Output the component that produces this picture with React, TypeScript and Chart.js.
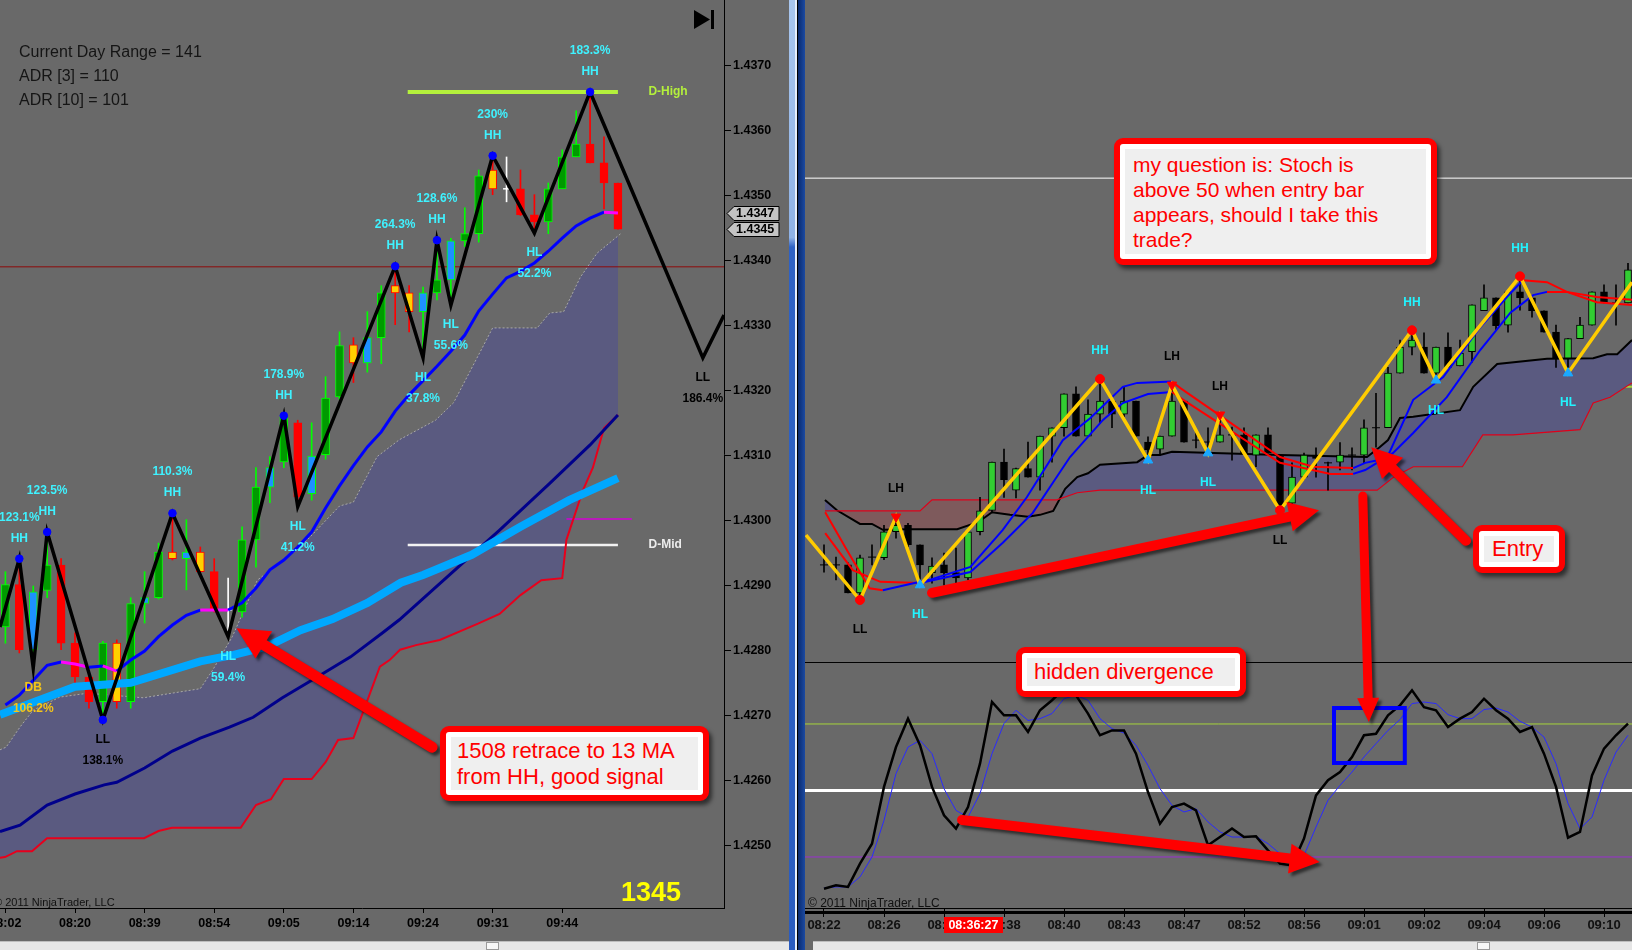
import React, { useEffect, useRef } from 'react';
import { Chart, registerables } from 'chart.js';

Chart.register(...registerables);

const FONT = 'Arial, "Liberation Sans", Helvetica, sans-serif';
const BG = '#696969';

// ================= LEFT PANEL (tick chart) =================
const LEFT_TIME_LABELS = ['08:02', '08:20', '08:39', '08:54', '09:05', '09:14', '09:24', '09:31', '09:44'];
const LEFT_TIME_BARS = [0, 5, 10, 15, 20, 25, 30, 35, 40];
const LEFT_PRICE_TICKS = [1.425, 1.426, 1.427, 1.428, 1.429, 1.43, 1.431, 1.432, 1.433, 1.434, 1.435, 1.436, 1.437];
const LEFT_X_MIN = -0.388;
const LEFT_X_MAX = 51.62;
const LEFT_Y_MIN = 1.424046;
const LEFT_Y_MAX = 1.438015;

// g = up, r = down, y = yellow signal bar, b = blue signal bar, w = white doji
const LEFT_KIND = ['g','r','b','g','r','r','r','g','y','g','b','g','y','b','y','r','w','g','g','b','g','r','b','g','g','y','b','g','y','y','b','g','b','g','g','y','w','r','r','g','g','g','r','r','r'];
const LEFT_OPEN = [1.42837,1.42902,1.42802,1.42893,1.42932,1.42812,1.42760,1.42722,1.42812,1.42722,1.42873,1.42882,1.42952,1.42942,1.42952,1.42922,1.42863,1.42860,1.42971,1.43052,1.43091,1.43151,1.43042,1.43102,1.43191,1.43271,1.43243,1.43282,1.43362,1.43351,1.43322,1.43351,1.43371,1.43431,1.43442,1.43540,1.43511,1.43511,1.43471,1.43460,1.43511,1.43560,1.43580,1.43551,1.43520];
const LEFT_HIGH = [1.42922,1.42942,1.42900,1.42983,1.42942,1.42828,1.42770,1.42815,1.42817,1.42882,1.42922,1.42966,1.43012,1.43002,1.42960,1.42942,1.42912,1.42991,1.43082,1.43099,1.43162,1.43155,1.43151,1.43222,1.43291,1.43282,1.43322,1.43362,1.43392,1.43362,1.43360,1.43432,1.43435,1.43482,1.43540,1.43562,1.43560,1.43540,1.43502,1.43520,1.43571,1.43631,1.43660,1.43591,1.43520];
const LEFT_LOW = [1.42812,1.42797,1.42774,1.42882,1.42802,1.42751,1.42712,1.42694,1.42712,1.42712,1.42843,1.42880,1.42940,1.42894,1.42920,1.42860,1.42822,1.42852,1.42929,1.43028,1.43082,1.43022,1.43032,1.43095,1.43187,1.43213,1.43229,1.43242,1.43302,1.43291,1.43251,1.43340,1.43332,1.43422,1.43429,1.43502,1.43491,1.43470,1.43443,1.43442,1.43511,1.43560,1.43551,1.43480,1.43449];
const LEFT_CLOSE = [1.42902,1.42802,1.42891,1.42932,1.42812,1.42760,1.42722,1.42812,1.42722,1.42873,1.42882,1.42952,1.42942,1.42952,1.42922,1.42863,1.42863,1.42971,1.43052,1.43082,1.43160,1.43037,1.43100,1.43189,1.43270,1.43243,1.43282,1.43351,1.43351,1.43322,1.43351,1.43371,1.43431,1.43442,1.43531,1.43511,1.43511,1.43471,1.43460,1.43511,1.43560,1.43580,1.43551,1.43520,1.43449];

const LEFT_ZZ_X = [-0.388, 1, 2, 3, 7, 12, 16, 20, 21, 28, 30, 31, 32, 35, 38, 42, 50.1, 51.62];
const LEFT_ZZ_Y = [1.42837, 1.42942, 1.42774, 1.42983, 1.42694, 1.43012, 1.42822, 1.43162, 1.43022, 1.43392, 1.43251, 1.43432, 1.43332, 1.43562, 1.43443, 1.43660, 1.43251, 1.43317];
const LEFT_LABEL_BARS = [1, 2, 3, 7, 12, 16, 20, 21, 28, 30, 31, 32, 35, 38, 42, 50.1];
const LEFT_LABEL_NAMES = ['HH','DB','HH','LL','HH','HL','HH','HL','HH','HL','HH','HL','HH','HL','HH','LL'];
const LEFT_LABEL_PCTS = ['123.1%','106.2%','123.5%','138.1%','110.3%','59.4%','178.9%','41.2%','264.3%','37.8%','128.6%','55.6%','230%','52.2%','183.3%','186.4%'];
const LEFT_DOT_BARS = [1, 3, 7, 12, 20, 28, 31, 35, 42];

const LEFT_MA13 = [1.42717,1.42732,1.42755,1.42778,1.42783,1.42780,1.42775,1.42777,1.42769,1.42786,1.42800,1.42822,1.42840,1.42855,1.42863,1.42863,1.42863,1.42874,1.42897,1.42925,1.42940,1.42960,1.42983,1.43020,1.43054,1.43085,1.43114,1.43137,1.43169,1.43194,1.43216,1.43238,1.43261,1.43286,1.43323,1.43349,1.43374,1.43384,1.43397,1.43415,1.43435,1.43454,1.43466,1.43475,1.43474];
const LEFT_SLOW_X = [-0.388, 5, 9, 14, 16.4, 18.8, 21.2, 23.5, 26, 28.4, 30, 33.5, 37, 40.5, 44];
const LEFT_SLOW_Y = [1.42702, 1.42745, 1.42751, 1.42784, 1.42794, 1.42807, 1.42832, 1.42849, 1.42874, 1.42905, 1.42917, 1.42948, 1.42991, 1.43032, 1.43066];
const LEFT_NAVY_X = [-0.388, 1.05, 3, 5, 7.1, 8, 10, 12, 14, 16.1, 17.8, 19.9, 22.4, 24.8, 27.1, 28.3, 31.9, 35.5, 39.1, 42, 44];
const LEFT_NAVY_Y = [1.42522, 1.42532, 1.42563, 1.42580, 1.42594, 1.42598, 1.42620, 1.42646, 1.42666, 1.42683, 1.42698, 1.42728, 1.42760, 1.42791, 1.42828, 1.42848, 1.42917, 1.42986, 1.43058, 1.43117, 1.43163];
const LEFT_LOWBAND_X = [-0.388, -0.03, 0.83, 1.91, 2.99, 9.96, 11.0, 11.97, 16.9, 18.0, 19.08, 20.0, 22.0, 23.0, 23.9, 25.0, 26.9, 27.6, 28.35, 29.5, 31.2, 33.95, 35.5, 37.0, 38.5, 40.0, 40.3, 41.5, 42.2, 43.0, 44.0];
const LEFT_LOWBAND_Y = [1.42482, 1.42483, 1.42492, 1.42492, 1.42512, 1.42512, 1.42523, 1.42528, 1.42528, 1.42563, 1.42572, 1.42603, 1.42603, 1.42629, 1.42663, 1.42666, 1.42776, 1.42786, 1.42802, 1.42809, 1.42817, 1.42842, 1.42857, 1.42886, 1.42909, 1.42912, 1.42971, 1.43048, 1.43082, 1.43143, 1.43163];
const LEFT_UPBAND_X = [-0.388, 0.05, 1.05, 2, 3.9, 5.9, 9.9, 14, 14.9, 16.3, 18.1, 21.2, 24, 25, 26.7, 28.3, 30.9, 32.2, 35, 38.2, 39.1, 40.1, 41.3, 42.5, 44.2];
const LEFT_UPBAND_Y = [1.42648, 1.42652, 1.42683, 1.42709, 1.42729, 1.42735, 1.42728, 1.42742, 1.42771, 1.42822, 1.42909, 1.42960, 1.43023, 1.43029, 1.43099, 1.43125, 1.43155, 1.43182, 1.43297, 1.43297, 1.43320, 1.43322, 1.43375, 1.43412, 1.43442];

const LEFT_PREV_LEVEL = 1.43391;
const D_HIGH = 1.4366;
const D_MID = 1.42963;
const D_FROM = 28.9;
const D_TO = 44.0;
const LEFT_MAGENTA_LEVEL = 1.43003;
const LEFT_MAGENTA_FROM = 40.3;
const LEFT_MAGENTA_TO = 45.0;
const LEFT_INFO = ['Current Day Range = 141', 'ADR [3] = 110', 'ADR [10] = 101'];

// ================= RIGHT PANEL =================
const RIGHT_TIME_LABELS = ['08:22','08:26','08:33','08:38','08:40','08:43','08:47','08:52','08:56','09:01','09:02','09:04','09:06','09:10'];
const RIGHT_TIME_BARS = [0,5,10,15,20,25,30,35,40,45,50,55,60,65];
const RIGHT_CURSOR_BAR = 12.45;
const RIGHT_CURSOR_LABEL = '08:36:27';
const R_X_MIN = -1.5833;
const R_X_MAX = 67.333;
const R_Y_MIN = 1.4222615;
const R_Y_MAX = 1.4362308;
const S_MIN = -3.02;
const S_MAX = 406.6;
const S_PANEL_TOP = 108;

// g = up (green), k = down (black), d = doji
const RIGHT_KIND = ['d','d','k','g','d','g','g','k','k','g','k','k','g','g','g','k','g','k','g','g','g','k','g','g','k','g','k','k','g','g','k','d','d','g','d','k','g','k','k','g','g','k','d','g','d','g','d','g','g','g','k','g','k','g','g','g','k','g','k','k','k','k','g','g','g','k','d','g'];
const RIGHT_OPEN = [1.42754,1.42754,1.42754,1.42711,1.42766,1.42765,1.42805,1.42815,1.42785,1.42742,1.42754,1.42742,1.42734,1.42805,1.42838,1.42912,1.42869,1.42902,1.42889,1.42952,1.42965,1.43017,1.42952,1.42986,1.43006,1.42986,1.43006,1.42943,1.42932,1.42952,1.43006,1.42946,1.42943,1.42943,1.42954,1.42954,1.42923,1.42954,1.42923,1.42849,1.42889,1.42923,1.42911,1.42912,1.42923,1.42923,1.42965,1.42965,1.43049,1.43089,1.43089,1.43049,1.43089,1.43060,1.43082,1.43145,1.43165,1.43123,1.43174,1.43165,1.43145,1.43112,1.43072,1.43102,1.43123,1.43174,1.43157,1.43157];
const RIGHT_HIGH = [1.42785,1.42766,1.42757,1.42769,1.42785,1.42815,1.42828,1.42818,1.42785,1.42765,1.42772,1.42780,1.42808,1.42858,1.42912,1.42932,1.42903,1.42943,1.42952,1.42965,1.43017,1.43028,1.43008,1.43040,1.43006,1.43028,1.43006,1.42951,1.42952,1.43031,1.43006,1.42962,1.42965,1.42985,1.42966,1.42965,1.42954,1.42965,1.42923,1.42911,1.42926,1.42934,1.42912,1.42942,1.42934,1.42977,1.43018,1.43058,1.43100,1.43115,1.43111,1.43089,1.43111,1.43100,1.43154,1.43185,1.43165,1.43174,1.43198,1.43165,1.43145,1.43123,1.43102,1.43135,1.43174,1.43185,1.43185,1.43218];
const RIGHT_LOW = [1.42743,1.42731,1.42711,1.42700,1.42754,1.42762,1.42795,1.42782,1.42723,1.42726,1.42723,1.42726,1.42731,1.42800,1.42835,1.42858,1.42857,1.42889,1.42869,1.42912,1.42952,1.42952,1.42952,1.42972,1.42965,1.42982,1.42952,1.42915,1.42923,1.42952,1.42943,1.42934,1.42926,1.42943,1.42915,1.42926,1.42905,1.42926,1.42838,1.42835,1.42885,1.42889,1.42869,1.42900,1.42900,1.42911,1.42935,1.42965,1.43049,1.43077,1.43049,1.43038,1.43058,1.43060,1.43066,1.43145,1.43115,1.43112,1.43146,1.43135,1.43112,1.43058,1.43049,1.43102,1.43123,1.43157,1.43123,1.43157];
const RIGHT_CLOSE = [1.42754,1.42754,1.42711,1.42765,1.42766,1.42805,1.42815,1.42785,1.42754,1.42752,1.42742,1.42734,1.42805,1.42837,1.42912,1.42885,1.42902,1.42889,1.42952,1.42965,1.43017,1.42952,1.42986,1.43006,1.42986,1.43006,1.42952,1.42931,1.42952,1.43006,1.42943,1.42946,1.42943,1.42954,1.42954,1.42926,1.42954,1.42926,1.42843,1.42889,1.42923,1.42918,1.42911,1.42923,1.42923,1.42965,1.42965,1.43049,1.43089,1.43100,1.43049,1.43089,1.43058,1.43080,1.43154,1.43165,1.43122,1.43174,1.43165,1.43145,1.43112,1.43072,1.43102,1.43123,1.43174,1.43157,1.43157,1.43208];

const R_ZZ_X = [-1.5, 3, 6, 8, 23, 27, 29, 32, 33, 38, 49, 51, 58, 62, 67.333];
const R_ZZ_Y = [1.42800, 1.42700, 1.42828, 1.42723, 1.43040, 1.42915, 1.43031, 1.42926, 1.42985, 1.42838, 1.43115, 1.43038, 1.43198, 1.43049, 1.43189];
const R_PIVOT_BARS = [3, 6, 8, 23, 27, 29, 32, 33, 38, 49, 51, 58, 62];
const R_PIVOT_NAMES = ['LL','LH','HL','HH','HL','LH','HL','LH','LL','HH','HL','HH','HL'];

const R_FAST_X = [0.1, 2, 3.8, 4.9, 8, 8.8, 12.2, 14.9, 16.9, 19.9, 22.2, 24.9, 26.1, 29, 29.7, 38, 40.75, 44.1, 45.1, 46.9, 49.1, 51.6, 54.7, 57.2, 58.25, 60.25, 61.9, 64.4, 67.333];
const R_FAST_Y = [1.42835, 1.42774, 1.42718, 1.42715, 1.42728, 1.42731, 1.42751, 1.42808, 1.42858, 1.42946, 1.42980, 1.43028, 1.43034, 1.43036, 1.43026, 1.42920, 1.42905, 1.42903, 1.42911, 1.42918, 1.43008, 1.43043, 1.43120, 1.43172, 1.43192, 1.43189, 1.43174, 1.43166, 1.43162];
const R_SLOW_X = [0.1, 2.4, 4.7, 8, 12.2, 14.9, 17.4, 20.5, 23.25, 24.9, 27, 29, 30.1, 38, 42.2, 44.1, 45.1, 47.4, 49.1, 51.9, 54.7, 57.2, 59.1, 60.25, 61.9, 64.4, 67.333];
const R_SLOW_Y = [1.42803, 1.42746, 1.42728, 1.42726, 1.42743, 1.42788, 1.42834, 1.42920, 1.42977, 1.43003, 1.43017, 1.43020, 1.43006, 1.42911, 1.42894, 1.42894, 1.42900, 1.42926, 1.42957, 1.43012, 1.43085, 1.43142, 1.43169, 1.43174, 1.43174, 1.43158, 1.43154];
const R_CLOUD_A_X = [0.08, 1.08, 3, 4, 4.9, 7.2, 11.1, 12.4, 13.25, 14, 15.5, 17, 18, 19.1, 20.1, 21.1, 22, 23, 26.1, 27, 28, 29, 38, 45.25, 46.3, 47, 48, 49.1, 53, 54.1, 56.1, 60.25, 64.1, 65.25, 66.1, 67.333];
const R_CLOUD_A_Y = [1.42854, 1.42838, 1.42817, 1.42817, 1.42808, 1.42809, 1.42809, 1.42817, 1.42825, 1.42835, 1.42831, 1.42828, 1.42831, 1.42837, 1.42871, 1.42889, 1.42895, 1.42908, 1.42912, 1.42923, 1.42923, 1.42928, 1.42923, 1.42920, 1.42935, 1.42946, 1.42980, 1.42982, 1.42992, 1.43028, 1.43063, 1.43071, 1.43072, 1.43078, 1.43078, 1.43100];
const R_CLOUD_B_X = [0.08, 8, 9, 19.4, 21.1, 23, 46.1, 47.4, 49.1, 53.2, 54.9, 57.4, 63, 64.1, 65.5, 67.333];
const R_CLOUD_B_Y = [1.42837, 1.42837, 1.42854, 1.42854, 1.42865, 1.42869, 1.42869, 1.42888, 1.42905, 1.42905, 1.42954, 1.42954, 1.42962, 1.43003, 1.43012, 1.43034];
const R_WHITE_LEVEL = 1.43349;
const R_GREEN_LEVEL = 1.43028;
const R_GREEN_FROM = 54.1;

const STOCH_K = [5.7,7.2,6.5,17.0,26.0,51.6,69.6,82.4,70.4,51.6,38.8,32.8,42.5,62.1,89.9,83.9,83.9,76.4,86.2,90.7,95.9,92.9,84.7,74.9,77.1,77.1,66.6,49.3,35.0,42.5,44.1,41.0,25.3,29.0,32.8,29.0,29.3,23.0,17.0,16.2,28.3,47.8,54.6,58.3,65.1,74.9,75.6,83.9,88.4,95.2,87.6,86.2,78.6,82.4,85.4,91.4,86.2,82.4,76.4,78.6,66.6,51.6,28.7,31.3,56.8,68.9,74.9,80.2];
const STOCH_D = [6.0,6.5,6.5,11.0,20.0,36.5,57.6,69.6,72.6,66.6,50.8,41.0,38.0,48.6,66.6,80.2,86.2,81.6,82.4,84.7,91.4,92.9,90.7,82.4,77.9,75.9,70.4,61.3,50.8,43.3,40.3,41.8,35.8,31.3,29.0,29.0,29.3,26.0,21.5,19.3,20.7,33.5,45.6,52.3,58.3,65.1,71.1,77.1,82.0,89.2,89.9,89.2,84.2,82.4,82.4,86.5,87.2,85.4,81.2,78.6,74.1,62.1,44.1,32.8,38.0,54.6,67.3,74.9];
const STOCH_LEVELS = [80, 50, 20];
const STOCH_LEVEL_COLORS = ['#a6d43c', '#ffffff', '#9b30d0'];
const STOCH_LEVEL_WIDTHS = [1, 3, 1];
const DIV_BOX = { x0: 42.5, x1: 48.4, s0: 87.2, s1: 62.4 };

// ---------- helpers ----------
function drawArrow(ctx: CanvasRenderingContext2D, x0: number, y0: number, x1: number, y1: number, w = 10, headLen = 30, headHalf = 15) {
  const a = Math.atan2(y1 - y0, x1 - x0);
  const ca = Math.cos(a), sa = Math.sin(a);
  const bx = x1 - ca * headLen, by = y1 - sa * headLen;
  const hw = w / 2;
  ctx.save();
  ctx.shadowColor = 'rgba(0,0,0,0.55)';
  ctx.shadowOffsetX = 3;
  ctx.shadowOffsetY = 3;
  ctx.shadowBlur = 3;
  ctx.fillStyle = '#ff0000';
  ctx.beginPath();
  ctx.moveTo(x0 + sa * hw, y0 - ca * hw);
  ctx.lineTo(bx + sa * hw, by - ca * hw);
  ctx.lineTo(bx + sa * headHalf, by - ca * headHalf);
  ctx.lineTo(x1, y1);
  ctx.lineTo(bx - sa * headHalf, by + ca * headHalf);
  ctx.lineTo(bx - sa * hw, by + ca * hw);
  ctx.lineTo(x0 - sa * hw, y0 + ca * hw);
  ctx.arc(x0, y0, hw, a + Math.PI / 2, a + Math.PI * 1.5);
  ctx.closePath();
  ctx.fill();
  ctx.restore();
}

const pts = (xs: number[], ys: number[]) => xs.map((x, k) => ({ x, y: ys[k] }));

const L_FILL: any = { g: '#009a00', r: '#ff0000', y: '#ffd000', b: '#1e90ff' };
const L_EDGE: any = { g: '#00ff00', r: '#ff0000', y: '#ff0000', b: '#00ff00' };
const L_WICK: any = { g: '#00ff00', r: '#ff0000', y: '#ff0000', b: '#00ff00', w: '#ffffff' };

const BASE_OPTIONS: any = {
  animation: false,
  responsive: false,
  devicePixelRatio: 1,
  events: [],
  layout: { padding: 0, autoPadding: false },
  elements: { point: { radius: 0 }, line: { tension: 0 } },
  plugins: { legend: { display: false }, tooltip: { enabled: false } },
};

function buildLeft() {
  const idx = LEFT_KIND.map((_, i) => i);
  const bodyIdx = idx.filter(i => LEFT_KIND[i] !== 'w');
  const dojiIdx = idx.filter(i => LEFT_KIND[i] === 'w');
  const zzY = (b: number) => LEFT_ZZ_Y[LEFT_ZZ_X.indexOf(b)];
  const datasets: any[] = [];
  const add = (d: any) => { datasets.push(d); return datasets.length - 1; };

  add({ type: 'line', data: LEFT_DOT_BARS.map(b => ({ x: b, y: zzY(b) })), showLine: false, pointRadius: 3.8, pointBackgroundColor: '#0000ff', pointBorderColor: '#0000ff', order: 0 });
  add({ type: 'line', data: pts(LEFT_ZZ_X, LEFT_ZZ_Y), borderColor: '#000000', borderWidth: 3.5, order: 1 });
  add({ type: 'line', data: LEFT_MA13.map((y, i) => ({ x: i, y })), borderColor: '#0000ff', borderWidth: 3,
    segment: { borderColor: (c: any) => (c.p1.parsed.y <= c.p0.parsed.y ? '#ff00ff' : '#0000ff') }, order: 2 });
  add({ type: 'line', data: pts(LEFT_SLOW_X, LEFT_SLOW_Y), borderColor: '#00a8ff', borderWidth: 8, order: 3 });
  add({ type: 'line', data: pts(LEFT_NAVY_X, LEFT_NAVY_Y), borderColor: '#00008b', borderWidth: 3, order: 4 });
  const lowBand = add({ type: 'line', data: pts(LEFT_LOWBAND_X, LEFT_LOWBAND_Y), borderColor: '#e8001c', borderWidth: 2, order: 5 });
  add({ type: 'line', data: [{ x: D_FROM, y: D_HIGH }, { x: D_TO, y: D_HIGH }], borderColor: '#b4f03c', borderWidth: 4, order: 6 });
  add({ type: 'line', data: [{ x: D_FROM, y: D_MID }, { x: D_TO, y: D_MID }], borderColor: '#f2f2f2', borderWidth: 2.5, order: 6 });
  add({ type: 'line', data: [{ x: LEFT_MAGENTA_FROM, y: LEFT_MAGENTA_LEVEL }, { x: LEFT_MAGENTA_TO, y: LEFT_MAGENTA_LEVEL }], borderColor: '#d400d4', borderWidth: 1.5, order: 6 });
  add({ type: 'line', data: dojiIdx.map(i => ({ x: i, y: LEFT_CLOSE[i] })), showLine: false, pointStyle: 'line', pointRadius: 3.5, pointBorderColor: '#ffffff', pointBorderWidth: 1.5, order: 7 });
  add({ type: 'bar', data: bodyIdx.map(i => ({ x: i, y: [Math.min(LEFT_OPEN[i], LEFT_CLOSE[i]), Math.max(LEFT_OPEN[i], LEFT_CLOSE[i])] })),
    backgroundColor: bodyIdx.map(i => L_FILL[LEFT_KIND[i]]), borderColor: bodyIdx.map(i => L_EDGE[LEFT_KIND[i]]),
    borderWidth: 1, borderSkipped: false, barThickness: 8, grouped: false, order: 8 });
  add({ type: 'bar', data: idx.map(i => ({ x: i, y: [LEFT_LOW[i], LEFT_HIGH[i]] })), backgroundColor: idx.map(i => L_WICK[LEFT_KIND[i]]),
    borderWidth: 0, barThickness: 1, grouped: false, order: 9 });
  add({ type: 'line', data: [{ x: LEFT_X_MIN, y: LEFT_PREV_LEVEL }, { x: LEFT_X_MAX, y: LEFT_PREV_LEVEL }], borderColor: '#8e0a0a', borderWidth: 1, order: 10 });
  add({ type: 'line', data: pts(LEFT_UPBAND_X, LEFT_UPBAND_Y), borderColor: '#a8a8a8', borderWidth: 1, borderDash: [2, 2],
    fill: { target: lowBand }, backgroundColor: '#5a5a80', order: 11 });

  const decor = {
    id: 'leftDecor',
    afterDatasetsDraw(chart: any) {
      const { ctx } = chart;
      const xs = chart.scales.x, ys = chart.scales.y;
      ctx.save();
      ctx.textAlign = 'center';
      ctx.textBaseline = 'middle';
      ctx.font = `bold 12px ${FONT}`;
      LEFT_LABEL_BARS.forEach((b, k) => {
        const name = LEFT_LABEL_NAMES[k];
        const px = xs.getPixelForValue(b);
        const py = ys.getPixelForValue(zzY(b));
        const high = name === 'HH' || name === 'LH';
        ctx.fillStyle = name === 'LL' ? '#000000' : name === 'DB' ? '#f5c518' : '#3ff2ff';
        const s = high ? -1 : 1;
        ctx.fillText(name, px, py + s * 20);
        ctx.fillText(LEFT_LABEL_PCTS[k], px, py + s * 41);
      });
      ctx.fillStyle = '#b4f03c';
      ctx.fillText('D-High', xs.getPixelForValue(47.6), ys.getPixelForValue(D_HIGH));
      ctx.fillStyle = '#ececec';
      ctx.fillText('D-Mid', xs.getPixelForValue(47.4), ys.getPixelForValue(D_MID));
      ctx.restore();
    },
    afterDraw(chart: any) {
      const { ctx, chartArea } = chart;
      const xs = chart.scales.x, ys = chart.scales.y;
      ctx.save();
      const marks = [LEFT_MA13[LEFT_MA13.length - 1], LEFT_CLOSE[LEFT_CLOSE.length - 1]];
      ctx.font = `bold 12.5px ${FONT}`;
      ctx.textBaseline = 'middle';
      ctx.textAlign = 'left';
      marks.forEach(v => {
        const y = Math.round(ys.getPixelForValue(v)) + 0.5;
        const x0 = chartArea.right + 3;
        ctx.beginPath();
        ctx.moveTo(x0, y);
        ctx.lineTo(x0 + 7, y - 7);
        ctx.lineTo(x0 + 52, y - 7);
        ctx.lineTo(x0 + 52, y + 7);
        ctx.lineTo(x0 + 7, y + 7);
        ctx.closePath();
        ctx.fillStyle = '#c4c4c4';
        ctx.fill();
        ctx.strokeStyle = '#000';
        ctx.lineWidth = 1;
        ctx.stroke();
        ctx.fillStyle = '#000';
        ctx.fillText(v.toFixed(4), x0 + 9, y + 0.5);
      });
      ctx.fillStyle = '#000';
      ctx.beginPath();
      ctx.moveTo(694, 10);
      ctx.lineTo(710, 19.5);
      ctx.lineTo(694, 29);
      ctx.closePath();
      ctx.fill();
      ctx.fillRect(711, 10, 3, 19);
      ctx.font = `11px ${FONT}`;
      ctx.textAlign = 'left';
      ctx.textBaseline = 'alphabetic';
      ctx.fillStyle = '#111';
      ctx.fillText('\u00A9 2011 NinjaTrader, LLC', -6, 906);
      drawArrow(ctx, xs.getPixelForValue(30.65), ys.getPixelForValue(1.42652), xs.getPixelForValue(16.6), ys.getPixelForValue(1.42835), 11, 32, 16);
      ctx.restore();
    },
  };

  return {
    type: 'line',
    data: { datasets },
    plugins: [decor],
    options: {
      ...BASE_OPTIONS,
      scales: {
        x: {
          type: 'linear', min: LEFT_X_MIN, max: LEFT_X_MAX, offset: false,
          afterBuildTicks: (s: any) => { s.ticks = LEFT_TIME_BARS.map(v => ({ value: v })); },
          afterFit: (s: any) => { s.height = 42; s.paddingLeft = 0; s.paddingRight = 0; },
          ticks: { autoSkip: false, maxRotation: 0, minRotation: 0, padding: 3, color: '#000', font: { size: 12.5, weight: 'bold', family: FONT },
            callback: (_v: any, i: number) => LEFT_TIME_LABELS[i] ?? '' },
          grid: { display: true, offset: false, drawOnChartArea: false, drawTicks: true, tickLength: 5, color: '#000' },
          border: { display: true, color: '#000', width: 1 },
        },
        y: {
          type: 'linear', position: 'right', min: LEFT_Y_MIN, max: LEFT_Y_MAX,
          afterBuildTicks: (s: any) => { s.ticks = LEFT_PRICE_TICKS.map(v => ({ value: v })); },
          afterFit: (s: any) => { s.width = 65; s.paddingTop = 0; s.paddingBottom = 0; },
          ticks: { padding: 2, color: '#000', font: { size: 12.5, weight: 'bold', family: FONT }, callback: (v: any) => Number(v).toFixed(4) },
          grid: { display: true, drawOnChartArea: false, drawTicks: true, tickLength: 7, color: '#000' },
          border: { display: true, color: '#000', width: 1 },
        },
      },
    },
  };
}

function buildRight() {
  const idx = RIGHT_KIND.map((_, i) => i);
  const bodyIdx = idx.filter(i => RIGHT_KIND[i] !== 'd');
  const dojiIdx = idx.filter(i => RIGHT_KIND[i] === 'd');
  const zzY = (b: number) => R_ZZ_Y[R_ZZ_X.indexOf(b)];
  const datasets: any[] = [];
  const add = (d: any) => { datasets.push(d); return datasets.length - 1; };
  const maSeg = { borderColor: (c: any) => (c.p1.parsed.y <= c.p0.parsed.y ? '#ff0000' : '#0000ff') };
  const pivotsOf = (names: string[]) => R_PIVOT_BARS.filter((_, k) => names.includes(R_PIVOT_NAMES[k])).map(b => ({ x: b, y: zzY(b) }));

  add({ type: 'line', yAxisID: 'y', data: pivotsOf(['HH', 'LL']), showLine: false, pointRadius: 4.5, pointBackgroundColor: '#ff0000', pointBorderColor: '#ff0000', order: 0 });
  add({ type: 'line', yAxisID: 'y', data: pivotsOf(['LH']), showLine: false, pointStyle: 'triangle', rotation: 180, pointRadius: 5.5, pointBackgroundColor: '#ff0000', pointBorderColor: '#ff0000', order: 0 });
  add({ type: 'line', yAxisID: 'y', data: pivotsOf(['HL']), showLine: false, pointStyle: 'triangle', pointRadius: 5.5, pointBackgroundColor: '#1aa8ff', pointBorderColor: '#1aa8ff', order: 0 });
  add({ type: 'line', yAxisID: 'y', data: pts(R_ZZ_X, R_ZZ_Y), borderColor: '#ffcc00', borderWidth: 3.5, order: 1 });
  add({ type: 'line', yAxisID: 'y', data: pts(R_FAST_X, R_FAST_Y), borderColor: '#0000ff', borderWidth: 2, segment: maSeg, order: 2 });
  add({ type: 'line', yAxisID: 'y', data: pts(R_SLOW_X, R_SLOW_Y), borderColor: '#0000ff', borderWidth: 2, segment: maSeg, order: 3 });
  add({ type: 'line', yAxisID: 'y', data: dojiIdx.map(i => ({ x: i, y: RIGHT_CLOSE[i] })), showLine: false, pointStyle: 'line', pointRadius: 4, pointBorderColor: '#000', pointBorderWidth: 1, order: 4 });
  add({ type: 'bar', yAxisID: 'y', data: bodyIdx.map(i => ({ x: i, y: [Math.min(RIGHT_OPEN[i], RIGHT_CLOSE[i]), Math.max(RIGHT_OPEN[i], RIGHT_CLOSE[i])] })),
    backgroundColor: bodyIdx.map(i => (RIGHT_KIND[i] === 'g' ? '#32cd32' : '#000000')), borderColor: '#000000',
    borderWidth: 1, borderSkipped: false, barThickness: 7, grouped: false, order: 5 });
  add({ type: 'bar', yAxisID: 'y', data: idx.map(i => ({ x: i, y: [RIGHT_LOW[i], RIGHT_HIGH[i]] })), backgroundColor: '#000000',
    borderWidth: 0, barThickness: 1, grouped: false, order: 6 });
  const cloudB = add({ type: 'line', yAxisID: 'y', data: pts(R_CLOUD_B_X, R_CLOUD_B_Y), borderColor: '#e0001a', borderWidth: 1.2, order: 7 });
  add({ type: 'line', yAxisID: 'y', data: pts(R_CLOUD_A_X, R_CLOUD_A_Y), borderColor: '#000000', borderWidth: 2,
    fill: { target: cloudB, above: '#5a5a80', below: '#7e5a5c' }, backgroundColor: '#5a5a80', order: 8 });
  add({ type: 'line', yAxisID: 'y', data: [{ x: R_X_MIN, y: R_WHITE_LEVEL }, { x: R_X_MAX, y: R_WHITE_LEVEL }], borderColor: '#ffffff', borderWidth: 1, order: 9 });
  add({ type: 'line', yAxisID: 'y', data: [{ x: R_GREEN_FROM, y: R_GREEN_LEVEL }, { x: R_X_MAX, y: R_GREEN_LEVEL }], borderColor: '#a6d43c', borderWidth: 2, order: 9 });
  add({ type: 'line', yAxisID: 'yS', data: STOCH_K.map((y, i) => ({ x: i, y })), borderColor: '#000000', borderWidth: 2.5, order: 10 });
  add({ type: 'line', yAxisID: 'yS', data: STOCH_D.map((y, i) => ({ x: i, y })), borderColor: '#2a2aff', borderWidth: 1, order: 11 });
  STOCH_LEVELS.forEach((lv, k) => {
    add({ type: 'line', yAxisID: 'yS', data: [{ x: R_X_MIN, y: lv }, { x: R_X_MAX, y: lv }], borderColor: STOCH_LEVEL_COLORS[k], borderWidth: STOCH_LEVEL_WIDTHS[k], order: 12 });
  });

  const decor = {
    id: 'rightDecor',
    afterDatasetsDraw(chart: any) {
      const { ctx } = chart;
      const xs = chart.scales.x, ys = chart.scales.y;
      ctx.save();
      ctx.font = `bold 12px ${FONT}`;
      ctx.textAlign = 'center';
      ctx.textBaseline = 'middle';
      R_PIVOT_BARS.forEach((b, k) => {
        const name = R_PIVOT_NAMES[k];
        const high = name === 'HH' || name === 'LH';
        ctx.fillStyle = name[0] === 'H' ? '#22f4ff' : '#000000';
        ctx.fillText(name, xs.getPixelForValue(b), ys.getPixelForValue(zzY(b)) + (high ? -28 : 30));
      });
      ctx.restore();
    },
    afterDraw(chart: any) {
      const { ctx, chartArea } = chart;
      const xs = chart.scales.x, ys = chart.scales.y, ss = chart.scales.yS;
      ctx.save();
      const sy = Math.round(ss.getPixelForValue(S_PANEL_TOP)) + 0.5;
      ctx.strokeStyle = '#000';
      ctx.lineWidth = 1;
      ctx.beginPath();
      ctx.moveTo(chartArea.left, sy);
      ctx.lineTo(chartArea.right, sy);
      ctx.stroke();
      ctx.strokeStyle = '#0000ff';
      ctx.lineWidth = 4;
      const bx0 = xs.getPixelForValue(DIV_BOX.x0), bx1 = xs.getPixelForValue(DIV_BOX.x1);
      const by0 = ss.getPixelForValue(DIV_BOX.s0), by1 = ss.getPixelForValue(DIV_BOX.s1);
      ctx.strokeRect(bx0, by0, bx1 - bx0, by1 - by0);
      drawArrow(ctx, xs.getPixelForValue(9.0), ys.getPixelForValue(1.42711), xs.getPixelForValue(41.25), ys.getPixelForValue(1.42838), 10, 30, 15);
      drawArrow(ctx, xs.getPixelForValue(53.5), ys.getPixelForValue(1.42791), xs.getPixelForValue(45.6), ys.getPixelForValue(1.42935), 10, 30, 15);
      drawArrow(ctx, xs.getPixelForValue(44.9), ys.getPixelForValue(1.4286), xs.getPixelForValue(45.4), ss.getPixelForValue(80.9), 9, 24, 11);
      drawArrow(ctx, xs.getPixelForValue(11.5), ss.getPixelForValue(36.7), xs.getPixelForValue(41.3), ss.getPixelForValue(17.7), 10, 30, 15);
      ctx.font = `12px ${FONT}`;
      ctx.fillStyle = '#111';
      ctx.textAlign = 'left';
      ctx.textBaseline = 'alphabetic';
      ctx.fillText('\u00A9 2011 NinjaTrader, LLC', 3, chartArea.bottom - 1);
      ctx.fillStyle = '#000';
      ctx.fillRect(chartArea.left, chartArea.bottom, chartArea.right - chartArea.left, 1);
      ctx.fillRect(chartArea.left, chartArea.bottom + 3, chartArea.right - chartArea.left, 3);
      const cx = xs.getPixelForValue(RIGHT_CURSOR_BAR);
      ctx.fillStyle = '#ff0000';
      ctx.fillRect(Math.round(cx - 29.5), chartArea.bottom + 9, 59, 16);
      ctx.fillStyle = '#ffffff';
      ctx.font = `bold 12.5px ${FONT}`;
      ctx.textAlign = 'center';
      ctx.textBaseline = 'middle';
      ctx.fillText(RIGHT_CURSOR_LABEL, cx, chartArea.bottom + 17.5);
      ctx.restore();
    },
  };

  return {
    type: 'line',
    data: { datasets },
    plugins: [decor],
    options: {
      ...BASE_OPTIONS,
      scales: {
        x: {
          type: 'linear', min: R_X_MIN, max: R_X_MAX, offset: false,
          afterBuildTicks: (s: any) => { s.ticks = RIGHT_TIME_BARS.map(v => ({ value: v })); },
          afterFit: (s: any) => { s.height = 42; s.paddingLeft = 0; s.paddingRight = 0; },
          ticks: { autoSkip: false, maxRotation: 0, minRotation: 0, padding: 1, color: '#111', font: { size: 13, weight: 'bold', family: FONT },
            callback: (_v: any, i: number) => RIGHT_TIME_LABELS[i] ?? '' },
          grid: { display: true, offset: false, drawOnChartArea: false, drawTicks: true, tickLength: 9, color: '#000' },
          border: { display: true, color: '#000', width: 1 },
        },
        y: { type: 'linear', display: false, min: R_Y_MIN, max: R_Y_MAX },
        yS: { type: 'linear', display: false, min: S_MIN, max: S_MAX },
      },
    },
  };
}

function Callout(props: { left: number; top: number; width: number; height: number; lines: string[]; size: number; lh: number; pad: number }) {
  const { left, top, width, height, lines, size, lh, pad } = props;
  return (
    <div style={{ position: 'absolute', left, top, width, height, boxSizing: 'border-box', border: '6px solid #ff0000', borderRadius: 9,
      background: '#ffffff', padding: 5, boxShadow: '3px 4px 4px rgba(0,0,0,0.55)' }}>
      <div style={{ background: '#efefef', width: '100%', height: '100%', boxSizing: 'border-box', paddingLeft: pad, color: '#ff0000',
        fontFamily: FONT, fontSize: size, lineHeight: `${lh}px`, whiteSpace: 'nowrap', display: 'flex', flexDirection: 'column', justifyContent: 'center' }}>
        {lines.map(l => <div key={l}>{l}</div>)}
      </div>
    </div>
  );
}

export default function App() {
  const leftRef = useRef<HTMLCanvasElement | null>(null);
  const rightRef = useRef<HTMLCanvasElement | null>(null);

  useEffect(() => {
    document.body.style.margin = '0';
    document.body.style.background = BG;
    Chart.defaults.font.family = FONT;
    Chart.defaults.color = '#000';
    const left = new Chart(leftRef.current as HTMLCanvasElement, buildLeft() as any);
    const right = new Chart(rightRef.current as HTMLCanvasElement, buildRight() as any);
    return () => {
      left.destroy();
      right.destroy();
    };
  }, []);

  return (
    <div style={{ position: 'relative', width: 1632, height: 950, background: BG, overflow: 'hidden', fontFamily: FONT }}>
      <canvas ref={leftRef} width={789} height={950} style={{ position: 'absolute', left: 0, top: 0, width: 789, height: 950 }} />
      <canvas ref={rightRef} width={827} height={950} style={{ position: 'absolute', left: 805, top: 0, width: 827, height: 950 }} />

      <div style={{ position: 'absolute', left: 789, top: 0, width: 16, height: 950, display: 'flex' }}>
        <div style={{ width: 6, height: '100%', background: 'linear-gradient(#a9c6ee 0%, #8fb2e6 25%, #2f62c4 26%, #2a5cc0 100%)' }} />
        <div style={{ width: 2, height: '100%', background: '#e6eefc' }} />
        <div style={{ width: 1, height: '100%', background: '#000' }} />
        <div style={{ width: 7, height: '100%', background: 'linear-gradient(90deg, #0a2a6e, #1b4aa2)' }} />
      </div>

      <div style={{ position: 'absolute', left: 0, top: 941, width: 789, height: 9, background: '#e6e6e6', borderTop: '1px solid #bdbdbd' }} />
      <div style={{ position: 'absolute', left: 486, top: 942, width: 13, height: 8, background: '#f7f7f7', border: '1px solid #9a9a9a', boxSizing: 'border-box' }} />
      <div style={{ position: 'absolute', left: 813, top: 941, width: 819, height: 9, background: '#e6e6e6', borderTop: '1px solid #bdbdbd' }} />
      <div style={{ position: 'absolute', left: 1477, top: 942, width: 13, height: 8, background: '#f7f7f7', border: '1px solid #9a9a9a', boxSizing: 'border-box' }} />

      <div style={{ position: 'absolute', left: 19, top: 40, fontSize: 16, lineHeight: '24px', color: '#151515', whiteSpace: 'nowrap' }}>
        {LEFT_INFO.map(l => <div key={l}>{l}</div>)}
      </div>
      <div style={{ position: 'absolute', left: 601, top: 876, width: 100, textAlign: 'center', fontSize: 27, fontWeight: 'bold', lineHeight: '32px', color: '#ffff00' }}>1345</div>

      <Callout left={440} top={726} width={269} height={75} lines={['1508 retrace to 13 MA', 'from HH, good signal']} size={22} lh={26} pad={6} />
      <Callout left={1114} top={138} width={323} height={127} lines={['my question is: Stoch is', 'above 50 when entry bar', 'appears, should I take this', 'trade?']} size={21} lh={25} pad={8} />
      <Callout left={1016} top={647} width={230} height={50} lines={['hidden divergence']} size={22} lh={26} pad={7} />
      <Callout left={1473} top={525} width={92} height={48} lines={['Entry']} size={22} lh={26} pad={8} />
    </div>
  );
}
